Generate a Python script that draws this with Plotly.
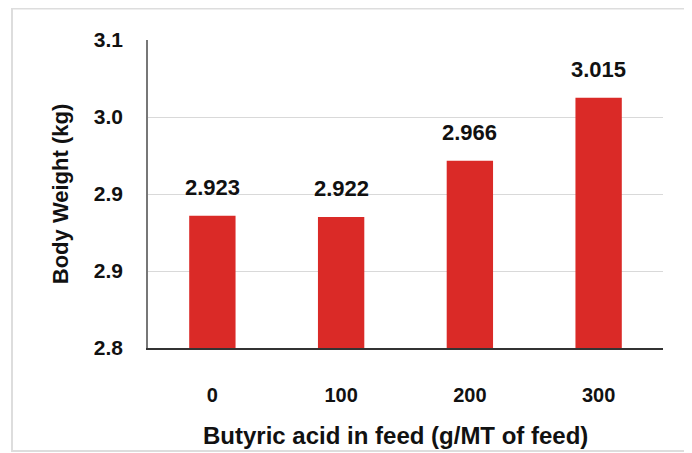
import plotly.graph_objects as go

categories = ["0", "100", "200", "300"]
body_weight = [2.923, 2.922, 2.966, 3.015]
y_ticks = [2.82, 2.88, 2.94, 3.00, 3.06]
x_title = "Butyric acid in feed (g/MT of feed)"
y_title = "Body Weight (kg)"

FONT = "Liberation Sans, Arial, sans-serif"

# page has an 8px body margin; plot area wanted at page x 148-663, y 40-348
L, R, T, B = 140, 37, 32, 113
PW, PH = 692 - L - R, 453 - T - B

fig = go.Figure()
fig.add_trace(go.Bar(
    x=categories, y=body_weight,
    marker=dict(color="#DA2A27", line=dict(width=0)),
    width=0.36,
    hoverinfo="x+y",
))

for i, v in enumerate(body_weight):
    fig.add_annotation(x=i, y=v, text=f"{v:.3f}", showarrow=False,
                       yanchor="bottom", yshift=14,
                       font=dict(family=FONT, size=22, color="#111111", weight="bold"))

fig.add_annotation(xref="paper", yref="paper",
                   x=(387 - L) / PW, y=-(427 - T - PH) / PH,
                   text=x_title, showarrow=False, xanchor="center", yanchor="middle",
                   font=dict(family=FONT, size=24, color="#111111", weight="bold"))

fig.add_shape(type="rect", xref="paper", yref="paper",
              x0=(4 - L) / PW, x1=(680 - L) / PW,
              y0=(T + PH - 443) / PH, y1=(T + PH - 0.5) / PH,
              line=dict(color="#DDDDDD", width=2), layer="below")

fig.update_layout(
    width=692, height=453,
    margin=dict(l=L, r=R, t=T, b=B),
    paper_bgcolor="white", plot_bgcolor="white",
    showlegend=False,
    font=dict(family=FONT, color="#111111"),
)
fig.update_xaxes(
    type="category", range=[-0.5, 3.5],
    showline=True, linecolor="#333333", linewidth=1.5,
    showgrid=False, ticks="outside", ticklen=0, tickcolor="rgba(0,0,0,0)",
    ticklabelstandoff=28,
    tickfont=dict(family=FONT, size=20, color="#111111", weight="bold"),
)
fig.update_yaxes(
    range=[2.82, 3.06], tickvals=y_ticks, tickformat=".1f",
    showline=True, linecolor="#777777", linewidth=1.5,
    showgrid=True, gridcolor="#D9D9D9", gridwidth=1,
    zeroline=False,
    ticks="outside", ticklen=0, tickcolor="rgba(0,0,0,0)",
    ticklabelstandoff=19,
    tickfont=dict(family=FONT, size=21, color="#111111", weight="bold"),
    title=dict(text=y_title, standoff=19,
               font=dict(family=FONT, size=22, color="#111111", weight="bold")),
)

fig.write_html("out.html")
